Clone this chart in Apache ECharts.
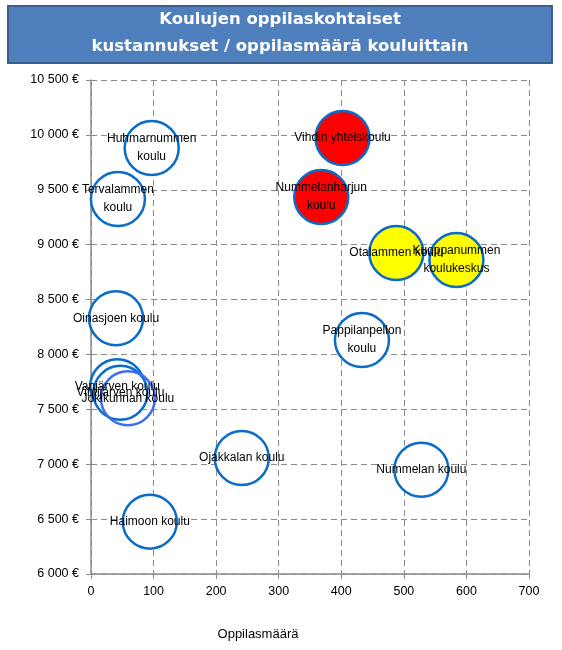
<!DOCTYPE html>
<html>
<head>
<meta charset="utf-8">
<script src="https://cdn.jsdelivr.net/npm/echarts@6/dist/echarts.min.js"></script>
<style>
html,body{margin:0;padding:0;background:#fff;}
#chart{width:562px;height:650px;}
</style>
</head>
<body>
<div id="chart"></div>
<script>
// ---- data ----
var schoolLabels = [
  'Huhmarnummen\nkoulu', 'Tervalammen\nkoulu', 'Oinasjoen koulu',
  'Vanjärven koulu', 'Vihtijärven koulu', 'Jokikunnan koulu',
  'Vihdin yhteiskoulu', 'Nummelanharjun\nkoulu', 'Otalammen koulu',
  'Kuoppanummen\nkoulukeskus', 'Pappilanpellon\nkoulu', 'Ojakkalan koulu',
  'Nummelan koulu', 'Haimoon koulu'
];
var students = [97, 43, 40, 42, 47, 59, 402, 368, 488, 584, 433, 241, 528, 94];
var costs = [9880, 9416, 8330, 7710, 7650, 7600, 9972, 9434, 8924, 8861, 8132, 7057, 6950, 6477];
var groups = ['n','n','n','n','n','j','r','r','y','y','n','n','n','n'];
var xTicks = [0, 100, 200, 300, 400, 500, 600, 700];
var yMin = 6000, yMax = 10500, yStep = 500;
var titleLines = ['Koulujen oppilaskohtaiset', 'kustannukset / oppilasmäärä kouluittain'];
var xName = 'Oppilasmäärä';

// ---- chart ----
var fillMap = {n: '#ffffff', j: 'rgba(255,255,255,0)', r: '#ff0000', y: '#ffff00'};
var borderMap = {n: '#0a6cc9', j: '#3f6ff0', r: '#0a6cc9', y: '#0a6cc9'};
var pts = students.map(function (s, i) {
  return {
    value: [s, costs[i]],
    name: schoolLabels[i],
    itemStyle: {color: fillMap[groups[i]], borderColor: borderMap[groups[i]]}
  };
});
function fmtEuro(v) {
  var s = String(v);
  var out = s.replace(/\B(?=(\d{3})+(?!\d))/g, ' ');
  return out + ' €';
}
var chart = echarts.init(document.getElementById('chart'), null, {renderer: 'canvas'});
chart.setOption({
  animation: false,
  backgroundColor: '#ffffff',
  textStyle: {fontFamily: 'Liberation Sans, Arial, sans-serif'},
  grid: {left: 91, right: 33, top: 80, bottom: 76},
  graphic: [
    {type: 'rect', shape: {x: 8, y: 6, width: 544, height: 57},
     style: {fill: '#4f7fbd', stroke: '#3a5f8c', lineWidth: 2}, z: 10},
    {type: 'text', x: 280, y: 20, z: 11,
     style: {text: titleLines[0], fill: '#ffffff', font: 'bold 16.5px "DejaVu Sans", Tahoma, sans-serif',
             textAlign: 'center', textVerticalAlign: 'middle'}},
    {type: 'text', x: 280, y: 47, z: 11,
     style: {text: titleLines[1], fill: '#ffffff', font: 'bold 16.5px "DejaVu Sans", Tahoma, sans-serif',
             textAlign: 'center', textVerticalAlign: 'middle'}},
    {type: 'text', x: 258, y: 634, z: 11,
     style: {text: xName, fill: '#000000', font: '13px "Liberation Sans", Arial, sans-serif',
             textAlign: 'center', textVerticalAlign: 'middle'}}
  ],
  xAxis: {
    type: 'value', min: xTicks[0], max: xTicks[xTicks.length - 1], interval: 100,
    axisLine: {show: true, onZero: false, lineStyle: {color: '#8c8c8c', width: 1.5}},
    axisTick: {show: true, length: 5, lineStyle: {color: '#8c8c8c'}},
    axisLabel: {color: '#000', fontSize: 12.5, margin: 11},
    splitLine: {show: true, lineStyle: {color: '#8c8c8c', type: [6, 4], width: 1}}
  },
  yAxis: {
    type: 'value', min: yMin, max: yMax, interval: yStep,
    axisLine: {show: true, onZero: false, lineStyle: {color: '#8c8c8c', width: 1.5}},
    axisTick: {show: true, length: 5, lineStyle: {color: '#8c8c8c'}},
    axisLabel: {color: '#000', fontSize: 12.5, margin: 12, formatter: fmtEuro},
    splitLine: {show: true, lineStyle: {color: '#8c8c8c', type: [6, 4], width: 1}}
  },
  series: [{
    type: 'scatter',
    symbol: 'circle',
    symbolSize: 54,
    data: pts,
    itemStyle: {borderWidth: 2.5, opacity: 1},
    label: {
      show: true, position: 'inside', color: '#000', fontSize: 12, lineHeight: 18,
      fontFamily: 'Liberation Sans, Arial, sans-serif',
      formatter: function (p) { return p.name; }
    },
    emphasis: {disabled: true}
  }]
});
</script>
</body>
</html>
